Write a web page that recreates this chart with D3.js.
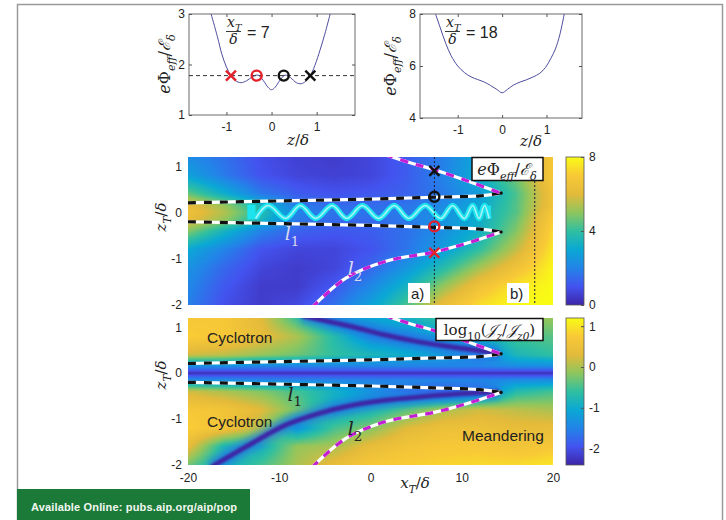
<!DOCTYPE html>
<html>
<head>
<meta charset="utf-8">
<script src="https://cdn.jsdelivr.net/npm/d3@7"></script>
<style>
body { margin: 0; background: #fff; }
svg text { font-family: "Liberation Sans", Arial, sans-serif; fill: #222; }
svg text.m { font-family: "DejaVu Serif", "Liberation Serif", serif; font-style: italic; }
</style>
</head>
<body>
<svg id="fig" width="726" height="520"></svg>
<script>
// parula colour stops
var parula = ['#3e26a8', '#4353ef', '#2284e8', '#0aa8d4', '#30bfa0', '#8ec65e', '#e3ba3a', '#f8c937', '#f9fb15'];

// top panels: effective potential cuts at x_T = 7 and x_T = 18
var cut7Z   = [-1.34, -1.2, -1.1, -1.0, -0.9, -0.8, -0.68, -0.55, -0.42, -0.3, -0.18, -0.08, 0, 0.08, 0.18, 0.3, 0.42, 0.55, 0.66, 0.76, 0.86, 0.96, 1.08, 1.18, 1.3];
var cut7Phi = [3.0, 2.55, 2.2, 1.95, 1.78, 1.68, 1.64, 1.68, 1.76, 1.79, 1.68, 1.55, 1.5, 1.55, 1.68, 1.79, 1.74, 1.64, 1.62, 1.67, 1.78, 1.98, 2.3, 2.6, 3.0];
var cut18Z   = [-1.5, -1.4, -1.27, -1.15, -1.0, -0.85, -0.7, -0.55, -0.4, -0.26, -0.12, 0, 0.12, 0.26, 0.4, 0.55, 0.7, 0.85, 0.98, 1.1, 1.2, 1.3, 1.4];
var cut18Phi = [8.0, 7.5, 6.87, 6.4, 6.0, 5.75, 5.58, 5.48, 5.38, 5.25, 5.1, 4.97, 5.1, 5.27, 5.38, 5.47, 5.58, 5.72, 5.95, 6.3, 6.65, 7.2, 8.0];
var cut7Level = 1.78;
var cut7MarkZ = [-0.9, -0.33, 0.27, 0.86];
var markType  = ['x', 'o', 'o', 'x'];
var cut7MarkColor = ['#e3212b', '#e3212b', '#111', '#111'];

// markers on the map at x_T = 7
var mapMarkZ = [0.9, 0.34, -0.3, -0.87];
var mapMarkType = ['x', 'o', 'o', 'x'];
var mapMarkColor = ['#111', '#111', '#e3212b', '#e3212b'];
var cutX = [7, 18];

// map grids (columns in x_T, rows in z_T)
var gridX = [-20, -16, -12, -8, -4, 0, 4, 8, 12, 16, 20];
var phiZ = [1.2, 0.8, 0.4, 0.15, 0, -0.15, -0.4, -0.8, -1.2, -1.6, -2];
var phiGrid = [
  [2.2, 1.6, 0.9, 0.6, 0.5, 0.7, 1.2, 1.9, 3.0, 4.8, 6.9],
  [2.8, 1.8, 1.0, 0.7, 0.6, 0.7, 1.2, 2.0, 3.2, 4.8, 6.9],
  [4.6, 3.2, 1.8, 1.2, 1.0, 1.1, 1.3, 1.8, 2.7, 4.3, 6.6],
  [6.2, 5.1, 3.5, 1.8, 1.5, 1.5, 1.7, 2.2, 3.0, 4.4, 6.6],
  [6.5, 5.4, 3.8, 2.0, 1.7, 1.7, 1.8, 2.4, 3.2, 4.4, 6.9],
  [6.2, 5.1, 3.5, 1.8, 1.5, 1.5, 1.8, 2.4, 3.2, 4.6, 7.1],
  [4.9, 3.4, 2.0, 1.3, 1.1, 1.2, 1.6, 2.3, 3.3, 4.9, 7.3],
  [3.0, 2.0, 1.0, 0.7, 0.7, 1.0, 1.7, 2.7, 4.0, 5.6, 7.6],
  [2.4, 1.4, 0.7, 0.5, 0.7, 1.4, 2.5, 3.8, 5.3, 6.6, 7.9],
  [2.1, 1.1, 0.5, 0.5, 1.1, 2.1, 3.4, 5.1, 6.6, 7.6, 8.0],
  [1.9, 0.9, 0.5, 0.8, 1.6, 2.8, 4.3, 6.3, 7.4, 8.0, 8.0]
];
var jZ = [1.2, 0.8, 0.4, 0.15, 0.06, 0, -0.06, -0.15, -0.4, -0.8, -1.2, -1.6, -2];
var jGrid = [
  [0.7, 0.7, 0.3, -0.6, -1.3, -1.1, -0.9, -0.6, -0.4, -0.2, -0.1],
  [0.8, 0.7, 0.4, 0.0, -0.7, -1.4, -1.4, -1.1, -0.9, -0.5, -0.4],
  [0.2, 0.1, -0.1, -0.3, -0.6, -0.8, -1.0, -1.2, -1.5, -0.8, -0.6],
  [-1.4, -1.4, -1.5, -1.5, -1.5, -1.5, -1.5, -1.5, -1.5, -1.4, -1.4],
  [-1.9, -1.9, -1.9, -1.9, -1.9, -1.9, -1.9, -1.9, -1.9, -1.9, -1.9],
  [-2.3, -2.3, -2.3, -2.3, -2.3, -2.3, -2.3, -2.3, -2.3, -2.3, -2.3],
  [-1.9, -1.9, -1.9, -1.9, -1.9, -1.9, -1.9, -1.9, -1.9, -1.9, -1.9],
  [-1.4, -1.4, -1.5, -1.5, -1.5, -1.5, -1.5, -1.5, -1.5, -1.4, -1.4],
  [0.2, 0.0, -0.2, -0.5, -0.9, -1.3, -1.6, -1.8, -1.6, -0.7, -0.5],
  [0.7, 0.6, 0.3, -0.3, -1.0, -0.8, -0.4, 0.0, 0.2, 0.1, 0.0],
  [0.8, 0.6, 0.0, -1.2, -0.5, -0.2, 0.3, 0.5, 0.5, 0.4, 0.4],
  [0.4, -0.8, -0.9, -0.1, 0.0, 0.4, 0.6, 0.7, 0.7, 0.6, 0.7],
  [-0.3, -1.0, -0.5, 0.0, 0.4, 0.7, 0.8, 0.85, 0.9, 0.9, 1.0]
];

// separatrix curves l1, l2 and the current minima bands
var l1Up   = [[-20, 0.21], [-10, 0.25], [0, 0.29], [7, 0.33], [12, 0.36], [14.3, 0.42]];
var l1Down = [[-20, -0.2], [-10, -0.24], [0, -0.28], [7, -0.32], [12, -0.36], [14.3, -0.42]];
var l2Up   = [[1.6, 1.25], [4.6, 1.06], [7.1, 0.92], [10.8, 0.67], [14.3, 0.42]];
var l2Down = [[-6.4, -2.05], [-2.7, -1.42], [1.6, -1.06], [7.1, -0.85], [10.8, -0.65], [14.3, -0.42]];
var bandUp   = [[-7.5, 1.25], [-2, 1.01], [1.6, 0.83], [5.3, 0.68], [9, 0.57], [12.6, 0.47], [14.1, 0.42]];
var bandDown = [[-17.5, -2.05], [-13, -1.53], [-9.3, -1.13], [-5.7, -0.88], [-2, -0.7], [1.6, -0.59], [5.3, -0.52], [9, -0.46], [12.6, -0.42], [14.1, -0.41]];

// meandering orbit (extrema of the wiggle)
var waveX = [-12.6, -11.2, -9.3, -7.7, -6.0, -4.2, -2.6, -0.9, 0.9, 2.6, 4.2, 6.0, 7.7, 9.0, 10.3, 11.2, 11.9, 12.5, 13.0];
var waveZ = [-0.13, 0.15, -0.13, 0.15, -0.13, 0.15, -0.13, 0.15, -0.13, 0.15, -0.13, 0.15, -0.13, 0.15, -0.13, 0.15, -0.13, 0.15, -0.13];

// ticks
var cutZTicks = [-1, 0, 1];
var cut7Ticks = [1, 2, 3];
var cut18Ticks = [4, 6, 8];
var mapXTicks = [-20, -10, 0, 10, 20];
var mapZTicks = [-2, -1, 0, 1];
var phiBarTicks = [0, 4, 8];
var jBarTicks = [-2, -1, 0, 1];

var svg = d3.select('#fig');
var defs = svg.append('defs');

// scales
var xTL = d3.scaleLinear().domain([-1.83, 1.85]).range([189, 355]);
var yTL = d3.scaleLinear().domain([1, 3]).range([115, 14]);
var xTR = d3.scaleLinear().domain([-1.85, 1.8]).range([420, 582]);
var yTR = d3.scaleLinear().domain([4, 8]).range([118, 14]);
var xMap = d3.scaleLinear().domain([-20, 20]).range([188, 553]);
var yMid = d3.scaleLinear().domain([-2, 1.2]).range([305, 157]);
var yBot = d3.scaleLinear().domain([-2, 1.2]).range([465, 318]);
var barPhi = d3.scaleLinear().domain([0, 8]).range([305, 157]);
var barJ = d3.scaleLinear().domain([-2.4, 1.2]).range([465, 318]);

function parulaScale(lo, hi) {
  return d3.scaleLinear()
    .domain(parula.map(function(c, i){ return lo + (hi - lo) * i / (parula.length - 1); }))
    .range(parula).clamp(true);
}
var colPhi = parulaScale(0, 8);
var colJ = parulaScale(-2.4, 1.2);

// outer frame of the figure page
svg.append('rect')
  .attr('x', 17.5).attr('y', 4.5).attr('width', 705).attr('height', 540)
  .attr('fill', 'none').attr('stroke', '#9a9a9a').attr('stroke-width', 1.5);

// --- helpers ---
function mathText(g, x, y, size, parts, rotate, anchor) {
  var t = g.append('text').attr('class', 'm').attr('x', x).attr('y', y)
    .attr('font-size', size).attr('text-anchor', anchor || 'middle');
  if (rotate) t.attr('transform', 'rotate(-90,' + x + ',' + y + ')');
  var shift = 0;
  parts.forEach(function(p){
    var s = t.append('tspan').text(p.t);
    var want = p.sub ? size * 0.3 : 0;
    if (want !== shift) { s.attr('dy', want - shift); shift = want; }
    if (p.sub) s.attr('font-size', size * 0.7);
    if (p.up) s.attr('font-style', 'normal');
  });
  return t;
}

function marker(g, cx, cy, type, color) {
  if (type === 'o') {
    g.append('circle').attr('cx', cx).attr('cy', cy).attr('r', 5)
      .attr('fill', 'none').attr('stroke', color).attr('stroke-width', 2.4);
  } else {
    g.append('path')
      .attr('d', 'M' + (cx - 5) + ',' + (cy - 5) + 'L' + (cx + 5) + ',' + (cy + 5) +
                 'M' + (cx - 5) + ',' + (cy + 5) + 'L' + (cx + 5) + ',' + (cy - 5))
      .attr('stroke', color).attr('stroke-width', 2.4).attr('fill', 'none');
  }
}

function styleAxis(sel) {
  sel.select('.domain').remove();
  sel.selectAll('line').attr('stroke', '#555');
  sel.selectAll('text').attr('font-size', 12).attr('fill', '#222');
}

var fmt = function(d){ return String(d); };

// --- top line panels ---
function linePanel(xS, yS, zs, vs, yTicks, id) {
  var x0 = xS.range()[0], x1 = xS.range()[1];
  var y0 = yS.range()[1], y1 = yS.range()[0];
  defs.append('clipPath').attr('id', id).append('rect')
    .attr('x', x0).attr('y', y0).attr('width', x1 - x0).attr('height', y1 - y0);
  var g = svg.append('g');
  g.append('rect').attr('x', x0).attr('y', y0).attr('width', x1 - x0).attr('height', y1 - y0)
    .attr('fill', '#fff').attr('stroke', '#6a6a6a').attr('stroke-width', 1);
  g.append('g').attr('transform', 'translate(0,' + y1 + ')')
    .call(d3.axisBottom(xS).tickValues(cutZTicks).tickSizeInner(-3).tickSizeOuter(0).tickPadding(7).tickFormat(fmt))
    .call(styleAxis);
  g.append('g').attr('transform', 'translate(0,' + y0 + ')')
    .call(d3.axisTop(xS).tickValues(cutZTicks).tickSizeInner(-3).tickSizeOuter(0).tickFormat(''))
    .call(styleAxis);
  g.append('g').attr('transform', 'translate(' + x0 + ',0)')
    .call(d3.axisLeft(yS).tickValues(yTicks).tickSizeInner(-3).tickSizeOuter(0).tickPadding(4).tickFormat(fmt))
    .call(styleAxis);
  g.append('g').attr('transform', 'translate(' + x1 + ',0)')
    .call(d3.axisRight(yS).tickValues(yTicks).tickSizeInner(-3).tickSizeOuter(0).tickFormat(''))
    .call(styleAxis);
  var line = d3.line().x(function(d, i){ return xS(zs[i]); }).y(function(d){ return yS(d); })
    .curve(d3.curveCatmullRom);
  g.append('path').datum(vs).attr('d', line).attr('clip-path', 'url(#' + id + ')')
    .attr('fill', 'none').attr('stroke', '#4d4d9e').attr('stroke-width', 1);
  return g;
}

var gTL = linePanel(xTL, yTL, cut7Z, cut7Phi, cut7Ticks, 'clipTL');
gTL.append('line').attr('x1', xTL.range()[0]).attr('x2', xTL.range()[1])
  .attr('y1', yTL(cut7Level)).attr('y2', yTL(cut7Level))
  .attr('stroke', '#333').attr('stroke-width', 1).attr('stroke-dasharray', '4,3');
cut7MarkZ.forEach(function(z, i){
  marker(gTL, xTL(z), yTL(cut7Level), markType[i], cut7MarkColor[i]);
});
var gTR = linePanel(xTR, yTR, cut18Z, cut18Phi, cut18Ticks, 'clipTR');

var phiLabel = [{t: 'e'}, {t: 'Φ', up: 1}, {t: 'eff', sub: 1}, {t: '/', up: 1}, {t: 'ℰ'}, {t: 'δ', sub: 1}];
mathText(svg, 170, 64, 16, phiLabel, true);
mathText(svg, 396, 66, 16, phiLabel, true);
mathText(svg, 298, 145, 15, [{t: 'z'}, {t: '/', up: 1}, {t: 'δ'}]);
mathText(svg, 531, 146, 15, [{t: 'z'}, {t: '/', up: 1}, {t: 'δ'}]);

function fraction(x, val) {
  mathText(svg, x + 1, 27, 14, [{t: 'x'}, {t: 'T', sub: 1}], false, 'start');
  svg.append('line').attr('x1', x).attr('x2', x + 15).attr('y1', 31.5).attr('y2', 31.5)
    .attr('stroke', '#222').attr('stroke-width', 0.9);
  mathText(svg, x + 7.5, 44, 14, [{t: 'δ'}]);
  svg.append('text').attr('x', x + 21).attr('y', 38).attr('font-size', 16)
    .attr('font-family', '"DejaVu Serif", serif').text('= ' + val);
}
fraction(226, '7');
fraction(445, '18');

// --- maps ---
function heatmap(g, yS, rowsZ, grid, cS) {
  var x0 = xMap.range()[0], x1 = xMap.range()[1];
  var y0 = yS.range()[1], y1 = yS.range()[0];
  var w = x1 - x0, h = y1 - y0;
  var cv = document.createElement('canvas');
  cv.width = w; cv.height = h;
  var ctx = cv.getContext('2d');
  var img = ctx.createImageData(w, h);
  var rowScales = grid.map(function(r){ return d3.scaleLinear().domain(gridX).range(r).clamp(true); });
  for (var i = 0; i < w; i++) {
    var xv = xMap.invert(x0 + i + 0.5);
    var col = d3.scaleLinear().domain(rowsZ)
      .range(rowScales.map(function(s){ return s(xv); })).clamp(true);
    for (var j = 0; j < h; j++) {
      var c = d3.rgb(cS(col(yS.invert(y0 + j + 0.5))));
      var k = (j * w + i) * 4;
      img.data[k] = c.r; img.data[k + 1] = c.g; img.data[k + 2] = c.b; img.data[k + 3] = 255;
    }
  }
  ctx.putImageData(img, 0, 0);
  g.append('image').attr('x', x0).attr('y', y0).attr('width', w).attr('height', h)
    .attr('preserveAspectRatio', 'none').attr('href', cv.toDataURL());
}

var blur1 = defs.append('filter').attr('id', 'blur1').attr('x', '-20%').attr('y', '-20%').attr('width', '140%').attr('height', '140%');
blur1.append('feGaussianBlur').attr('stdDeviation', 0.8);
var blur3 = defs.append('filter').attr('id', 'blur3').attr('x', '-20%').attr('y', '-20%').attr('width', '140%').attr('height', '140%');
blur3.append('feGaussianBlur').attr('stdDeviation', 3);

function dashedCurve(g, line, pts, color) {
  g.append('path').datum(pts).attr('d', line).attr('fill', 'none')
    .attr('stroke', '#fff').attr('stroke-width', 3.2);
  g.append('path').datum(pts).attr('d', line).attr('fill', 'none')
    .attr('stroke', color).attr('stroke-width', 3.2).attr('stroke-dasharray', '8,8');
}

function mapPanel(yS, rowsZ, grid, cS, id) {
  var x0 = xMap.range()[0], x1 = xMap.range()[1];
  var y0 = yS.range()[1], y1 = yS.range()[0];
  defs.append('clipPath').attr('id', id).append('rect')
    .attr('x', x0).attr('y', y0).attr('width', x1 - x0).attr('height', y1 - y0);
  var g = svg.append('g');
  heatmap(g, yS, rowsZ, grid, cS);
  var inner = g.append('g').attr('clip-path', 'url(#' + id + ')');
  g.append('g').attr('transform', 'translate(' + x0 + ',0)')
    .call(d3.axisLeft(yS).tickValues(mapZTicks).tickSize(0).tickPadding(6).tickFormat(fmt))
    .call(styleAxis);
  var line = d3.line().x(function(d){ return xMap(d[0]); }).y(function(d){ return yS(d[1]); })
    .curve(d3.curveCatmullRom);
  return {g: g, inner: inner, line: line};
}

// middle: effective potential
var mid = mapPanel(yMid, phiZ, phiGrid, colPhi, 'clipMid');
// cyan meandering orbit
var waveLine = d3.line().x(function(d, i){ return xMap(waveX[i]); }).y(function(d){ return yMid(d); })
  .curve(d3.curveMonotoneX);
mid.inner.append('rect').attr('x', xMap(-13.5)).attr('y', yMid(0.17))
  .attr('width', xMap(-12.6) - xMap(-13.5)).attr('height', yMid(-0.15) - yMid(0.17)).attr('fill', '#1ce3ee');
mid.inner.append('rect').attr('x', xMap(12.8)).attr('y', yMid(0.15))
  .attr('width', xMap(13.2) - xMap(12.8)).attr('height', yMid(-0.13) - yMid(0.15)).attr('fill', '#1ce3ee');
mid.inner.append('path').datum(waveZ).attr('d', waveLine).attr('fill', 'none')
  .attr('stroke', '#1ce3ee').attr('stroke-width', 5.5);
mid.inner.append('path').datum(waveZ).attr('d', waveLine).attr('fill', 'none')
  .attr('stroke', '#a9f3f6').attr('stroke-width', 1.6);

[l1Up, l1Down].forEach(function(p){ dashedCurve(mid.inner, mid.line, p, '#111'); });
[l2Up, l2Down].forEach(function(p){ dashedCurve(mid.inner, mid.line, p, '#c51fd6'); });
cutX.forEach(function(x){
  mid.inner.append('line').attr('x1', xMap(x)).attr('x2', xMap(x)).attr('y1', yMid(1.2)).attr('y2', yMid(-2))
    .attr('stroke', '#1a1a3a').attr('stroke-width', 1).attr('stroke-dasharray', '2,2');
});
mapMarkZ.forEach(function(z, i){
  marker(mid.inner, xMap(cutX[0]), yMid(z), mapMarkType[i], mapMarkColor[i]);
});
[0.42, -0.42].forEach(function(z){
  mid.inner.append('circle').attr('cx', xMap(14.3)).attr('cy', yMid(z)).attr('r', 1.8).attr('fill', '#111');
});
mathText(mid.inner, xMap(-9.4), yMid(-0.6), 19, [{t: 'l'}, {t: '1', sub: 1, up: 1}], false, 'start')
  .style('fill', '#d8d8ee').selectAll('tspan').style('fill', '#d8d8ee');
mathText(mid.inner, xMap(-2.5), yMid(-1.35), 19, [{t: 'l'}, {t: '2', sub: 1, up: 1}], false, 'start')
  .style('fill', '#d8d8ee').selectAll('tspan').style('fill', '#d8d8ee');
[['a)', 408], ['b)', 507]].forEach(function(d){
  mid.g.append('rect').attr('x', d[1]).attr('y', 283).attr('width', 22).attr('height', 20).attr('fill', '#fff');
  mid.g.append('text').attr('x', d[1] + 3).attr('y', 299).attr('font-size', 15).text(d[0]);
});
mid.g.append('rect').attr('x', 472).attr('y', 157.5).attr('width', 71).attr('height', 23)
  .attr('fill', '#fff').attr('stroke', '#111').attr('stroke-width', 1.5);
mathText(mid.g, 507, 175, 16, phiLabel);

// bottom: current density
var bot = mapPanel(yBot, jZ, jGrid, colJ, 'clipBot');
[bandUp, bandDown].forEach(function(p){
  bot.inner.append('path').datum(p).attr('d', bot.line).attr('fill', 'none')
    .attr('stroke', '#2a6ae6').attr('stroke-width', 14).attr('opacity', 0.6).attr('filter', 'url(#blur3)');
  bot.inner.append('path').datum(p).attr('d', bot.line).attr('fill', 'none')
    .attr('stroke', '#3d28a6').attr('stroke-width', 5).attr('filter', 'url(#blur1)');
});
[l1Up, l1Down].forEach(function(p){ dashedCurve(bot.inner, bot.line, p, '#111'); });
[l2Up, l2Down].forEach(function(p){ dashedCurve(bot.inner, bot.line, p, '#c51fd6'); });
[0.42, -0.42].forEach(function(z){
  bot.inner.append('circle').attr('cx', xMap(14.3)).attr('cy', yBot(z)).attr('r', 1.8).attr('fill', '#111');
});
mathText(bot.inner, xMap(-9.1), yBot(-0.6), 19, [{t: 'l'}, {t: '1', sub: 1, up: 1}], false, 'start');
mathText(bot.inner, xMap(-2.5), yBot(-1.35), 19, [{t: 'l'}, {t: '2', sub: 1, up: 1}], false, 'start');
bot.g.append('text').attr('x', 207).attr('y', 343).attr('font-size', 15.5).text('Cyclotron');
bot.g.append('text').attr('x', 207).attr('y', 427).attr('font-size', 15.5).text('Cyclotron');
bot.g.append('text').attr('x', 462).attr('y', 441).attr('font-size', 15.5).text('Meandering');
bot.g.append('rect').attr('x', 436).attr('y', 318.5).attr('width', 107).attr('height', 22)
  .attr('fill', '#fff').attr('stroke', '#111').attr('stroke-width', 1.5);
mathText(bot.g, 489.5, 335, 15, [{t: 'log', up: 1}, {t: '10', sub: 1, up: 1}, {t: '(', up: 1}, {t: '𝒥'},
  {t: 'z', sub: 1}, {t: '/', up: 1}, {t: '𝒥'}, {t: 'z0', sub: 1}, {t: ')', up: 1}]);

bot.g.append('g').attr('transform', 'translate(0,' + yBot.range()[0] + ')')
  .call(d3.axisBottom(xMap).tickValues(mapXTicks).tickSize(0).tickPadding(8).tickFormat(fmt))
  .call(styleAxis);

var zLabel = [{t: 'z'}, {t: 'T', sub: 1}, {t: '/', up: 1}, {t: 'δ'}];
mathText(svg, 166, 217, 15, zLabel, true);
mathText(svg, 166, 375, 15, zLabel, true);
mathText(svg, 415, 488, 15, [{t: 'x'}, {t: 'T', sub: 1}, {t: '/', up: 1}, {t: 'δ'}]);

// --- colour bars ---
var grad = defs.append('linearGradient').attr('id', 'parulaGrad')
  .attr('x1', 0).attr('y1', 1).attr('x2', 0).attr('y2', 0);
parula.forEach(function(c, i){
  grad.append('stop').attr('offset', i / (parula.length - 1)).attr('stop-color', c);
});
function colorBar(yS, ticks) {
  var y0 = yS.range()[1], y1 = yS.range()[0];
  var g = svg.append('g');
  g.append('rect').attr('x', 566).attr('y', y0).attr('width', 18).attr('height', y1 - y0)
    .attr('fill', 'url(#parulaGrad)').attr('stroke', '#555').attr('stroke-width', 0.8);
  g.append('g').attr('transform', 'translate(584,0)')
    .call(d3.axisRight(yS).tickValues(ticks).tickSizeInner(-3).tickSizeOuter(0).tickPadding(5).tickFormat(fmt))
    .call(styleAxis);
}
colorBar(barPhi, phiBarTicks);
colorBar(barJ, jBarTicks);

// --- journal badge ---
svg.append('rect').attr('x', 17).attr('y', 489).attr('width', 233).attr('height', 31).attr('fill', '#1c7a38');
svg.append('text').attr('x', 31).attr('y', 511).attr('font-size', 11).attr('font-weight', 'bold')
  .attr('textLength', 206).style('fill', '#f2f7f2').text('Available Online: pubs.aip.org/aip/pop');
</script>
</body>
</html>
